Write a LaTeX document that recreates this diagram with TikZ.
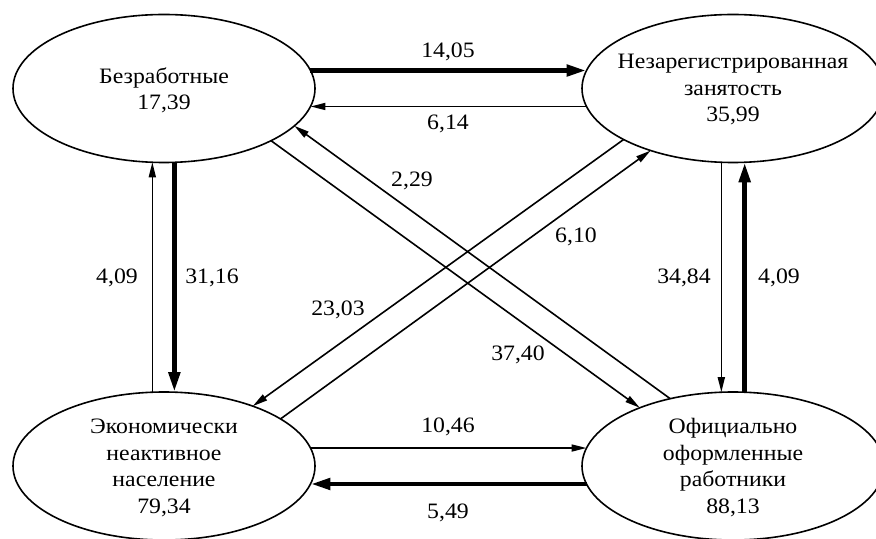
\documentclass[tikz,border=0pt]{standalone}
\usepackage{fontspec}
\setmainfont[FakeStretch=1.08]{Liberation Serif}
\usetikzlibrary{arrows.meta,shapes.geometric}
\begin{document}
\begin{tikzpicture}[x=0.5pt,y=-0.5pt,
  ell/.style={draw, ellipse, line width=0.8pt, minimum width=151pt, minimum height=74pt, inner sep=0pt, outer sep=0pt},
  etext/.style={align=center, inner sep=0pt, font=\fontsize{11}{13.25}\selectfont},
  lbl/.style={inner sep=0pt, anchor=base, font=\fontsize{11}{12}\selectfont},
  thinarr/.style={line width=0.8pt, -{Triangle[length=7.5pt,width=3.5pt]}},
  thickarr/.style={line width=2.4pt, -{Triangle[length=10pt,width=5.5pt]}}]
\useasboundingbox (0,0) rectangle (876,539);
% ellipses
\node[ell] (E1) at (164,88.5) {};
\node[ell] (E2) at (733,88.5) {};
\node[ell] (E3) at (164,466) {};
\node[ell] (E4) at (733,466) {};
% texts
\node[etext] (T1) at (164,90.2) {Безработные\\17,39};
\node[etext] (T2) at (733,89.7) {Незарегистрированная\\занятость\\35,99};
\node[etext] (T3) at (164,467.9) {Экономически\\неактивное\\население\\79,34};
\node[etext] (T4) at (733,467.6) {Официально\\оформленные\\работники\\88,13};
% connectors
\draw[thickarr] (E1.7) -- (E2.173);
\draw[thinarr] (E2.187) -- (E1.353);
\draw[thinarr] (E3.99) -- (E1.261);
\draw[thickarr] (E1.278) -- (E3.82);
\draw[thinarr] (E2.261) -- (E4.99);
\draw[thickarr] (E4.81) -- (E2.279);
\draw[thinarr] (E3.7) -- (E4.173);
\draw[thickarr] (E4.187) -- (E3.353);
\draw[thinarr] (E4.133) -- (E1.344);
\draw[thinarr] (E1.334) -- (E4.148);
\draw[thinarr] (E2.205) -- (E3.34);
\draw[thinarr] (E3.22) -- (E2.217);
% labels
\node[lbl] (L1) at (448,58) {14,05};
\node[lbl] (L2) at (448,130) {6,14};
\node[lbl] (L3) at (412,187) {2,29};
\node[lbl] (L4) at (576,243) {6,10};
\node[lbl] (L5) at (338,315) {23,03};
\node[lbl] (L6) at (518,360) {37,40};
\node[lbl] (L7) at (117,284) {4,09};
\node[lbl] (L8) at (212,284) {31,16};
\node[lbl] (L9) at (684,284) {34,84};
\node[lbl] (L10) at (779,284) {4,09};
\node[lbl] (L11) at (448,432) {10,46};
\node[lbl] (L12) at (448,518) {5,49};
\end{tikzpicture}
\end{document}
